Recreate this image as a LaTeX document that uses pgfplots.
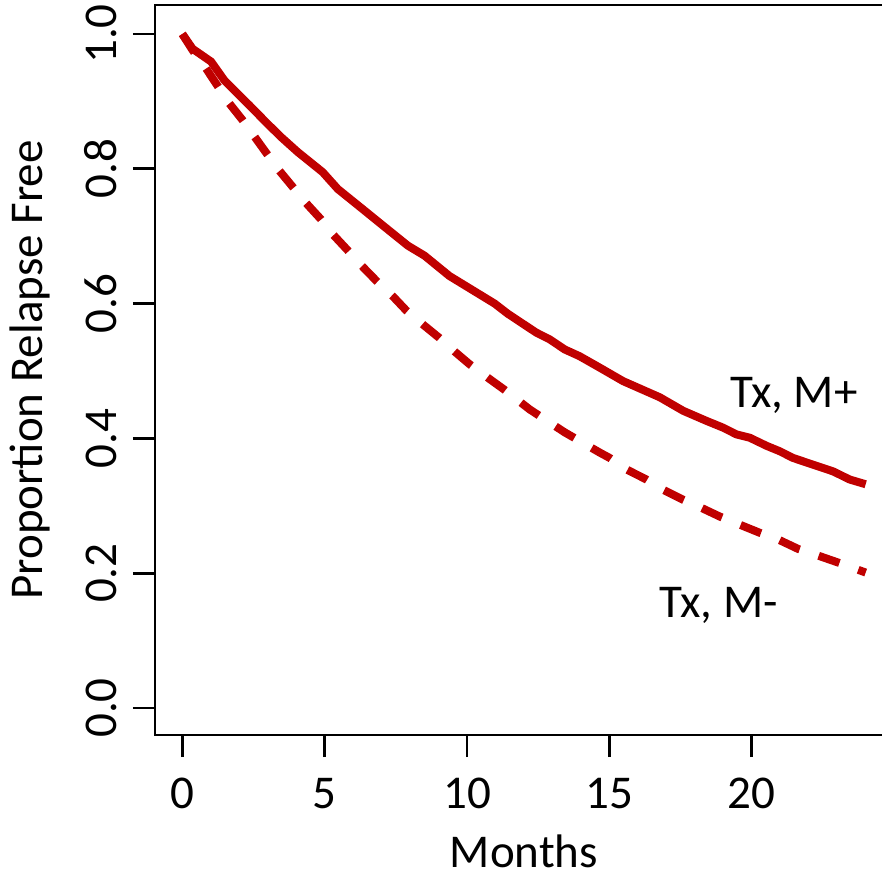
\documentclass[border=0pt]{standalone}
\usepackage{pgfplots}
\pgfplotsset{compat=1.18}
\usepackage{fontspec}
\setmainfont{Carlito}
\usetikzlibrary{calc}
\definecolor{kmred}{HTML}{C00000}

\begin{document}
\fontsize{23.6}{28}\selectfont
\begin{tikzpicture}
\begin{axis}[
  name=ax,
  scale only axis,
  width=369bp, height=365bp,
  xmin=-0.96, xmax=24.96,
  ymin=-0.04, ymax=1.043,
  axis line style={line width=1.3bp},
  every tick/.style={black, line width=1.3bp},
  tick align=outside,
  xtick pos=bottom, ytick pos=left,
  major tick length=11bp,
  xtick={0,5,10,15,20},
  ytick={0,0.2,0.4,0.6,0.8,1.0},
  /pgf/number format/assume math mode=true,
  xticklabel style={anchor=north, inner sep=0pt, yshift=-10.5bp},
  % labels read upwards; the shift is taken in the rotated frame
  yticklabel style={rotate=90, anchor=south, inner sep=0pt, yshift=8bp,
    /pgf/number format/fixed, /pgf/number format/fixed zerofill,
    /pgf/number format/precision=1},
  every axis x label/.style={at={(axis description cs:0.5,-0.182)}, anchor=base},
  every axis y label/.style={at={(axis description cs:-0.1518,0.5)}, rotate=90, anchor=base},
  xlabel={Months},
  ylabel={Proportion Relapse Free},
  clip=false,
]
% Tx, M+ group
\addplot[kmred, line width=4bp, line join=round] coordinates {
(0,1.000) (0.36,0.978) (1.01,0.959) (1.48,0.931) (2.36,0.894) (2.94,0.869)
(3.47,0.847) (4.05,0.825) (4.93,0.795) (5.46,0.770) (6.34,0.740) (7.04,0.716)
(7.92,0.686) (8.51,0.671) (9.38,0.641) (10.97,0.600) (11.43,0.585) (12.43,0.557)
(12.90,0.547) (13.43,0.532) (13.95,0.522) (14.66,0.505) (15.48,0.485) (16.77,0.461)
(17.59,0.441) (18.41,0.426) (18.99,0.416) (19.46,0.406) (19.93,0.401) (20.52,0.389)
(20.98,0.381) (21.45,0.371) (22.86,0.351) (23.44,0.339) (24.00,0.332)
};
% Tx, M- group
\addplot[kmred, line width=4bp, line join=round, dash pattern=on 11bp off 10bp] coordinates {
(0,1.000) (0.36,0.976) (0.83,0.949) (1.24,0.923) (1.65,0.897) (2.12,0.872)
(2.53,0.848) (2.94,0.824) (3.41,0.797) (3.88,0.773) (4.35,0.749) (4.87,0.725)
(5.28,0.703) (5.81,0.679) (6.28,0.657) (6.81,0.634) (7.39,0.611) (7.86,0.590)
(8.45,0.569) (9.03,0.549) (9.56,0.529) (10.09,0.510) (10.73,0.490) (11.32,0.472)
(12.20,0.443) (13.43,0.409) (14.66,0.379) (15.01,0.371) (15.60,0.354) (16.30,0.339)
(16.88,0.324) (17.59,0.309) (18.23,0.297) (18.88,0.284) (19.58,0.272) (20.28,0.260)
(20.98,0.249) (21.63,0.236) (22.27,0.227) (23.09,0.215) (24.00,0.201)
};
\node[anchor=base] at (axis cs:21.48,0.446) {Tx, M+};
\node[anchor=base] at (axis cs:18.84,0.135) {Tx, M-};
\end{axis}
\pgfresetboundingbox
\useasboundingbox ($(ax.south west)+(-77.5bp,-71bp)$) rectangle ($(ax.south west)+(363.5bp,367.5bp)$);
\end{tikzpicture}
\end{document}
